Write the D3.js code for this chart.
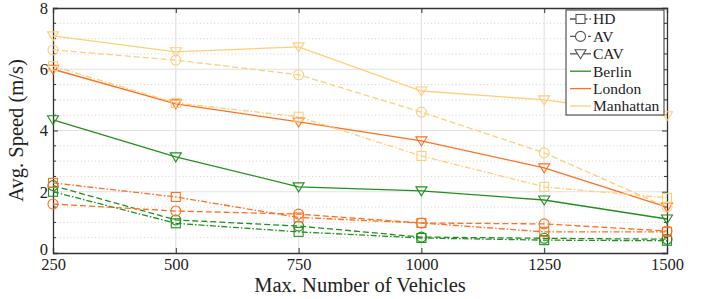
<!DOCTYPE html>
<html>
<head>
<meta charset="utf-8">
<script src="https://cdn.jsdelivr.net/npm/d3@7"></script>
<style>
  body { margin: 0; background: #fff; }
  text { font-family: "Liberation Serif", "DejaVu Serif", serif; fill: #222; }
</style>
</head>
<body>
<svg width="702" height="299"></svg>
<script>
'use strict';

// chart data
const vehicles = [250, 500, 750, 1000, 1250, 1500];
const cities = ['Berlin', 'London', 'Manhattan'];
const types = ['HD', 'AV', 'CAV'];

const berlinHD = [2.0, 0.97, 0.69, 0.49, 0.42, 0.40];
const berlinAV = [2.2, 1.08, 0.88, 0.52, 0.48, 0.45];
const berlinCAV = [4.35, 3.14, 2.16, 2.03, 1.73, 1.11];
const londonHD = [2.29, 1.83, 1.16, 0.98, 0.69, 0.69];
const londonAV = [1.6, 1.37, 1.27, 0.98, 0.95, 0.72];
const londonCAV = [6.0, 4.87, 4.28, 3.66, 2.78, 1.5];
const manhattanHD = [6.1, 4.9, 4.45, 3.17, 2.16, 1.8];
const manhattanAV = [6.63, 6.3, 5.82, 4.6, 3.27, 1.5];
const manhattanCAV = [7.09, 6.57, 6.73, 5.29, 5.0, 4.48];

const yTicks = [0, 2, 4, 6, 8];

const series = [
  { city: 'Berlin', type: 'HD', values: berlinHD },
  { city: 'Berlin', type: 'AV', values: berlinAV },
  { city: 'Berlin', type: 'CAV', values: berlinCAV },
  { city: 'London', type: 'HD', values: londonHD },
  { city: 'London', type: 'AV', values: londonAV },
  { city: 'London', type: 'CAV', values: londonCAV },
  { city: 'Manhattan', type: 'HD', values: manhattanHD },
  { city: 'Manhattan', type: 'AV', values: manhattanAV },
  { city: 'Manhattan', type: 'CAV', values: manhattanCAV }
];

const color = d3.scaleOrdinal().domain(cities).range(['#22901f', '#ff7020', '#ffcf78']);
const dash = d3.scaleOrdinal().domain(types).range(['6,2,1.5,2', '6,3', null]);

const svg = d3.select('svg');
const margin = { top: 8, right: 35, bottom: 46, left: 53 };
const width = 702 - margin.left - margin.right;
const height = 299 - margin.top - margin.bottom;

const x = d3.scaleLinear().domain([250, 1500]).range([0, width]);
const y = d3.scaleLinear().domain([0, 8]).range([height, 0]);

const g = svg.append('g').attr('transform', `translate(${margin.left},${margin.top})`);

// minor grid
const minor = d3.range(0.5, 8, 0.5).filter(v => v % 2 !== 0);
g.append('g').selectAll('line').data(minor).join('line')
  .attr('x1', 0).attr('x2', width)
  .attr('y1', d => y(d)).attr('y2', d => y(d))
  .attr('stroke', '#c8c8c8').attr('stroke-width', 0.8).attr('stroke-dasharray', '1,2.5');

// major grid
g.append('g').selectAll('line').data(yTicks.slice(1, -1)).join('line')
  .attr('x1', 0).attr('x2', width)
  .attr('y1', d => y(d)).attr('y2', d => y(d))
  .attr('stroke', '#e2e2e2').attr('stroke-width', 1.2);
g.append('g').selectAll('line').data(vehicles.slice(1, -1)).join('line')
  .attr('x1', d => x(d)).attr('x2', d => x(d))
  .attr('y1', 0).attr('y2', height)
  .attr('stroke', '#e2e2e2').attr('stroke-width', 1.2);

// axes
const fontSize = '16.5px';
const xAxis = g.append('g').attr('transform', `translate(0,${height})`)
  .call(d3.axisBottom(x).tickValues(vehicles).tickFormat(d3.format('d')).tickSize(-5).tickPadding(7));
const yAxis = g.append('g')
  .call(d3.axisLeft(y).tickValues(yTicks).tickSize(-5).tickPadding(5));
const xTop = g.append('g')
  .call(d3.axisTop(x).tickValues(vehicles).tickSize(-5).tickFormat(''));
const yRight = g.append('g').attr('transform', `translate(${width},0)`)
  .call(d3.axisRight(y).tickValues(yTicks).tickSize(-5).tickFormat(''));

// minor ticks on y
[0, width].forEach((px, i) => {
  g.append('g').selectAll('line').data(minor).join('line')
    .attr('x1', px).attr('x2', i === 0 ? px + 3 : px - 3)
    .attr('y1', d => y(d)).attr('y2', d => y(d))
    .attr('stroke', '#333');
});

[xAxis, yAxis, xTop, yRight].forEach(a => {
  a.select('.domain').attr('stroke', '#333').attr('stroke-width', 1.3);
  a.selectAll('.tick line').attr('stroke', '#333');
  a.selectAll('text').style('font-size', fontSize)
    .style('font-family', '"Liberation Serif", serif').attr('fill', '#222');
});
xAxis.selectAll('text').attr('dy', '0.6em');
// keep the "0" clear of the "250" below it
yAxis.selectAll('.tick').filter(d => d === 0).select('text').attr('dy', '0.1em');

// lines
const line = d3.line().x((d, i) => x(vehicles[i])).y(d => y(d));

g.append('g').selectAll('path').data(series).join('path')
  .attr('d', d => line(d.values))
  .attr('fill', 'none')
  .attr('stroke', d => color(d.city))
  .attr('stroke-width', 1.3)
  .attr('stroke-dasharray', d => dash(d.type));

function drawMarker(sel, type, stroke) {
  if (type === 'HD') {
    sel.append('rect').attr('x', -4.5).attr('y', -4.5).attr('width', 9).attr('height', 9);
  } else if (type === 'AV') {
    sel.append('circle').attr('r', 5);
  } else {
    sel.append('path').attr('d', 'M-5.5,-4 L5.5,-4 L0,5 Z');
  }
  sel.selectAll('rect,circle,path').attr('fill', 'none').attr('stroke', stroke).attr('stroke-width', 1.1);
}

series.forEach(s => {
  s.values.forEach((v, i) => {
    const m = g.append('g').attr('transform', `translate(${x(vehicles[i])},${y(v)})`);
    drawMarker(m, s.type, color(s.city));
  });
});

// legend
const leg = svg.append('g').attr('transform', 'translate(566,10)');
leg.append('rect').attr('width', 98).attr('height', 105)
  .attr('fill', '#fff').attr('stroke', '#333').attr('stroke-width', 1);
const legItems = types.map(t => ({ label: t, type: t, stroke: '#555' }))
  .concat(cities.map(c => ({ label: c, type: null, stroke: color(c) })));
legItems.forEach((it, i) => {
  const row = leg.append('g').attr('transform', `translate(0,${9 + i * 17.4})`);
  row.append('line').attr('x1', 4).attr('x2', 25).attr('y1', 0).attr('y2', 0)
    .attr('stroke', it.stroke).attr('stroke-width', 1.3)
    .attr('stroke-dasharray', it.type ? dash(it.type) : null);
  if (it.type) {
    const m = row.append('g').attr('transform', 'translate(14.5,0)');
    drawMarker(m, it.type, it.stroke);
    m.selectAll('rect,circle,path').attr('fill', '#fff');
  }
  row.append('text').attr('x', 27).attr('y', 0).attr('dy', '0.35em')
    .style('font-size', '15.5px').text(it.label);
});

// axis titles
svg.append('text').attr('x', margin.left + width / 2).attr('y', 292)
  .attr('text-anchor', 'middle').style('font-size', '20.5px')
  .text('Max. Number of Vehicles');
svg.append('text')
  .attr('transform', `translate(23,${margin.top + height / 2}) rotate(-90)`)
  .attr('text-anchor', 'middle').style('font-size', '20.5px')
  .text('Avg. Speed (m/s)');
</script>
</body>
</html>
